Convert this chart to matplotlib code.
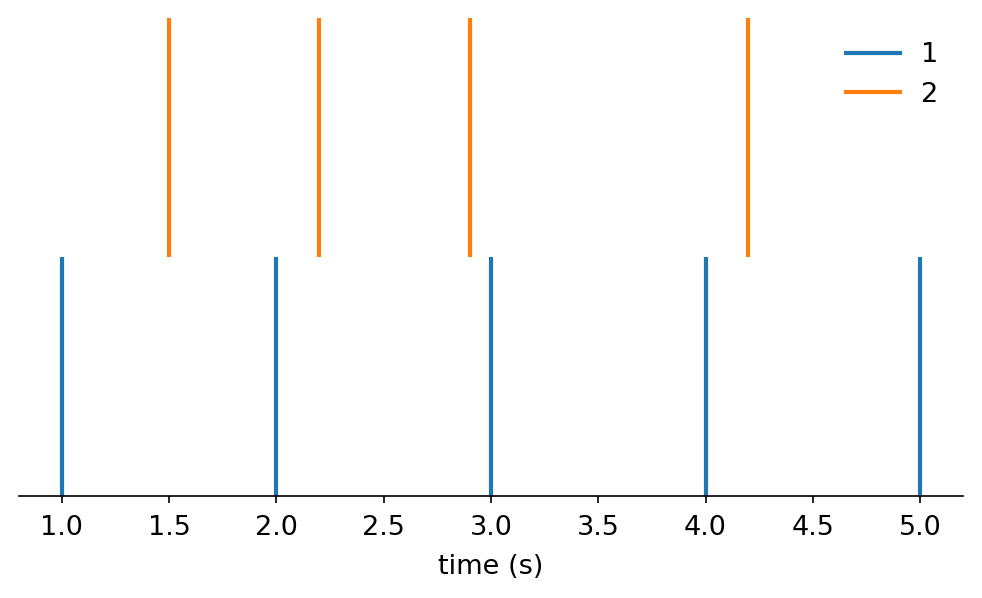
import matplotlib
matplotlib.use("Agg")
import matplotlib.pyplot as plt
from matplotlib.lines import Line2D

series_names = ["1", "2"]
events_1 = [1.0, 2.0, 3.0, 4.0, 5.0]
events_2 = [1.5, 2.2, 2.9, 4.2]
colors = ["#1f77b4", "#ff7f0e"]

plt.rcParams["font.size"] = 13
fig = plt.figure(figsize=(9.82 / 1.5, 5.98 / 1.5), dpi=150)
ax = fig.add_axes([0.0193, 0.1706, 0.9614, 0.7994])
ax.eventplot([events_1, events_2], colors=colors, lineoffsets=[0, 1],
             linelengths=1, linewidths=2)
ax.set_xlim(0.8, 5.2)
ax.set_ylim(-0.5, 1.5)
ax.set_xticks([1.0, 1.5, 2.0, 2.5, 3.0, 3.5, 4.0, 4.5, 5.0])
ax.tick_params(axis="x", pad=5.5)
ax.set_yticks([])
for s in ["left", "top", "right"]:
    ax.spines[s].set_visible(False)
ax.set_xlabel("time (s)", labelpad=6.4)
handles = [Line2D([0], [0], color=c, lw=2) for c in colors]
ax.legend(handles, series_names, loc="upper right", frameon=False)
fig.savefig("out.png", dpi=150)
